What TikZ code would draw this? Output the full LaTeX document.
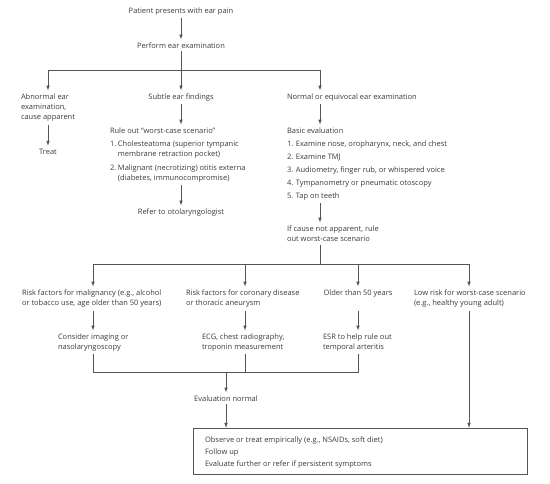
\documentclass[tikz,border=0pt]{standalone}
\usepackage{fontspec}
\setmainfont{Open Sans}
\usetikzlibrary{arrows.meta}
\definecolor{txt}{HTML}{3A3A3A}
\definecolor{lnc}{HTML}{555555}
\begin{document}
\begin{tikzpicture}[x=1pt,y=-1pt,
  every node/.style={inner sep=0pt, outer sep=0pt, text=txt, font=\fontsize{7.5}{10.3}\selectfont},
  lbl/.style={anchor=base},
  lblw/.style={anchor=base west},
  blk/.style={anchor=north west, align=left},
  conn/.style={draw=lnc, line width=0.8pt},
  arr/.style={conn, -{Latex[length=5pt,width=3.6pt]}, shorten <=3pt, shorten >=3pt}]
\useasboundingbox (0,0) rectangle (550,484);
% nodes
\node[lbl] (patient) at (181,13.3) {Patient presents with ear pain};
\node[lbl] (perform) at (181,48.3) {Perform ear examination};
\node[blk] (abn) at (21,93.7) {Abnormal ear\\examination,\\cause apparent};
\node[lbl] (subtle) at (181,99.3) {Subtle ear findings};
\node[lblw] (normal) at (287,99.3) {Normal or equivocal ear examination};
\node[lbl] (treat) at (48,154.3) {Treat};
\node[blk] (ruleout) at (110,127.7) {Rule out ``worst-case scenario''\\[3pt]
  \makebox[8pt][l]{1.}Cholesteatoma (superior tympanic\\
  \hspace*{8pt}membrane retraction pocket)\\[3pt]
  \makebox[8pt][l]{2.}Malignant (necrotizing) otitis externa\\
  \hspace*{8pt}(diabetes, immunocompromise)};
\node[lbl] (refer) at (181,214.3) {Refer to otolaryngologist};
\node[blk] (basic) at (287,127.7) {Basic evaluation\\[2.7pt]
  1. Examine nose, oropharynx, neck, and chest\\[2.7pt]
  2. Examine TMJ\\[2.7pt]
  3. Audiometry, finger rub, or whispered voice\\[2.7pt]
  4. Tympanometry or pneumatic otoscopy\\[2.7pt]
  5. Tap on teeth};
\node[blk] (ifcause) at (287,225.7) {If cause not apparent, rule\\out worst-case scenario};
\node[blk] (malig) at (22,289.7) {Risk factors for malignancy (e.g., alcohol\\or tobacco use, age older than 50 years)};
\node[blk] (coron) at (186,289.7) {Risk factors for coronary disease\\or thoracic aneurysm};
\node[lbl] (older) at (358,295.3) {Older than 50 years};
\node[blk] (lowrisk) at (414,289.7) {Low risk for worst-case scenario\\(e.g., healthy young adult)};
\node[blk] (consider) at (58,333.7) {Consider imaging or\\nasolaryngoscopy};
\node[blk] (ecg) at (202,333.7) {ECG, chest radiography,\\troponin measurement};
\node[blk] (esr) at (323,333.7) {ESR to help rule out\\temporal arteritis};
\node[lbl] (evalnorm) at (226,401.3) {Evaluation normal};
\node[draw=lnc, line width=0.8pt, minimum width=334pt, minimum height=46pt, anchor=north west] (box) at (193,428) {};
\node[blk] (boxtxt) at (205,436.7) {Observe or treat empirically (e.g., NSAIDs, soft diet)\\[1.7pt]
  Follow up\\[1.7pt]
  Evaluate further or refer if persistent symptoms};
% junction coordinates
\coordinate (jA) at (48,70);
\coordinate (j0) at (181,70);
\coordinate (jC) at (320,70);
\coordinate (k0) at (320,264);
\coordinate (kA) at (93,264);
\coordinate (kB) at (245,264);
\coordinate (kC) at (358,264);
\coordinate (kD) at (469,264);
\coordinate (mN) at (226,372);
% connectors
\draw[arr] (patient.south) -- (perform.north);
\draw[conn, shorten <=3pt] (perform.south) -- (j0);
\draw[arr, shorten <=0pt] (j0) -| (abn.north -| jA);
\draw[arr, shorten <=0pt] (j0) -- (subtle.north);
\draw[arr, shorten <=0pt] (j0) -| (normal.north -| jC);
\draw[arr] (abn.south -| jA) -- (treat.north);
\draw[arr] (subtle.south) -- (ruleout.north -| subtle);
\draw[arr] (ruleout.south -| subtle) -- (refer.north);
\draw[arr] (normal.south -| jC) -- (basic.north -| jC);
\draw[arr] (basic.south -| jC) -- (ifcause.north -| jC);
\draw[conn, shorten <=3pt] (ifcause.south -| jC) -- (k0);
\draw[arr, shorten <=0pt] (k0) -| (malig.north -| kA);
\draw[arr, shorten <=0pt] (k0) -| (coron.north -| kB);
\draw[arr, shorten <=0pt] (k0) -| (older.north);
\draw[arr, shorten <=0pt] (k0) -| (lowrisk.north -| kD);
\draw[arr] (malig.south -| kA) -- (consider.north -| kA);
\draw[arr] (coron.south -| kB) -- (ecg.north -| kB);
\draw[arr] (malig.south -| kC) -- (esr.north -| kC);
\draw[conn, shorten <=3pt] (consider.south -| kA) |- (mN);
\draw[conn, shorten <=3pt] (esr.south -| kC) |- (mN);
\draw[conn, shorten <=3pt] (ecg.south -| kB) -- (mN -| kB);
\draw[arr, shorten <=0pt] (mN) -- (evalnorm.north);
\draw[arr, shorten >=0pt] (evalnorm.south) -- (box.north -| evalnorm);
\draw[arr, shorten >=0pt] (lowrisk.south -| kD) -- (box.north -| kD);
\end{tikzpicture}
\end{document}
